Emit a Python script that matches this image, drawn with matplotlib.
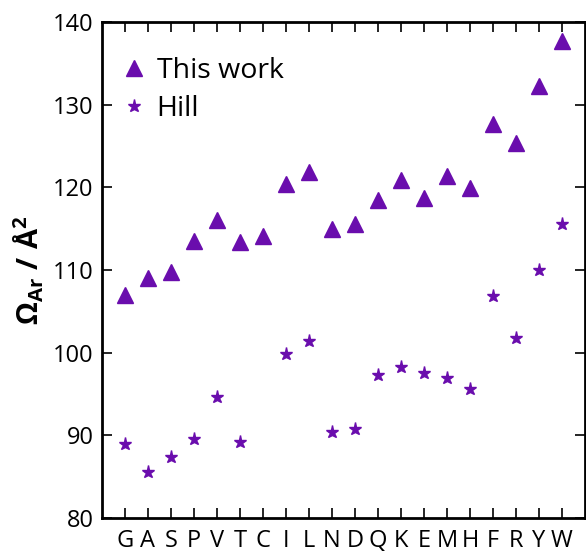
import matplotlib
matplotlib.use("Agg")
import matplotlib.pyplot as plt
import numpy as np

plt.rcParams['font.family'] = ['Open Sans', 'DejaVu Sans']
plt.rcParams['mathtext.fontset'] = 'custom'
plt.rcParams['mathtext.rm'] = 'Open Sans'
plt.rcParams['mathtext.bf'] = 'Open Sans:bold'
plt.rcParams['mathtext.it'] = 'Open Sans:italic'

residues = ['G', 'A', 'S', 'P', 'V', 'T', 'C', 'I', 'L', 'N',
            'D', 'Q', 'K', 'E', 'M', 'H', 'F', 'R', 'Y', 'W']
this_work = [107.0, 109.0, 109.7, 113.5, 116.0, 113.4, 114.1, 120.4, 121.9, 115.0,
             115.6, 118.5, 120.9, 118.7, 121.4, 119.9, 127.7, 125.4, 132.3, 137.7]
hill = [88.9, 85.6, 87.4, 89.5, 94.6, 89.2, np.nan, 99.8, 101.4, 90.4,
        90.8, 97.3, 98.3, 97.5, 96.9, 95.6, 106.8, 101.8, 110.0, 115.6]

color = '#6A0DAD'

fig = plt.figure(figsize=(5.86, 5.52), dpi=100)
ax = fig.add_axes([102/586, 34/552, 483/586, 496/552])

x = np.arange(len(residues))
ax.plot(x, this_work, linestyle='none', marker='^', ms=11, color=color, label='This work')
ax.plot(x, hill, linestyle='none', marker='*', ms=9.5, color=color, label='Hill')

ax.set_xlim(-1, 20)
ax.set_ylim(80, 140)
ax.set_xticks(x)
ax.set_xticklabels(residues)
ax.set_yticks([80, 90, 100, 110, 120, 130, 140])

for s in ax.spines.values():
    s.set_linewidth(2.0)
ax.tick_params(axis='both', direction='in', length=7, width=1.2, labelsize=17, pad=6)
ax.tick_params(axis='x', top=True, pad=8)
ax.tick_params(axis='y', right=True)

ax.set_ylabel(r'$\mathbf{\Omega_{Ar}\ /\ Å^{2}}$', fontsize=21, labelpad=4.5)

ax.legend(loc='upper left', frameon=False, fontsize=20.5, handletextpad=0.2,
          labelspacing=0.36, borderaxespad=0.4, handlelength=1.2,
          bbox_to_anchor=(-8/483, 1 - 12/496))

fig.savefig('out.png', dpi=100)
